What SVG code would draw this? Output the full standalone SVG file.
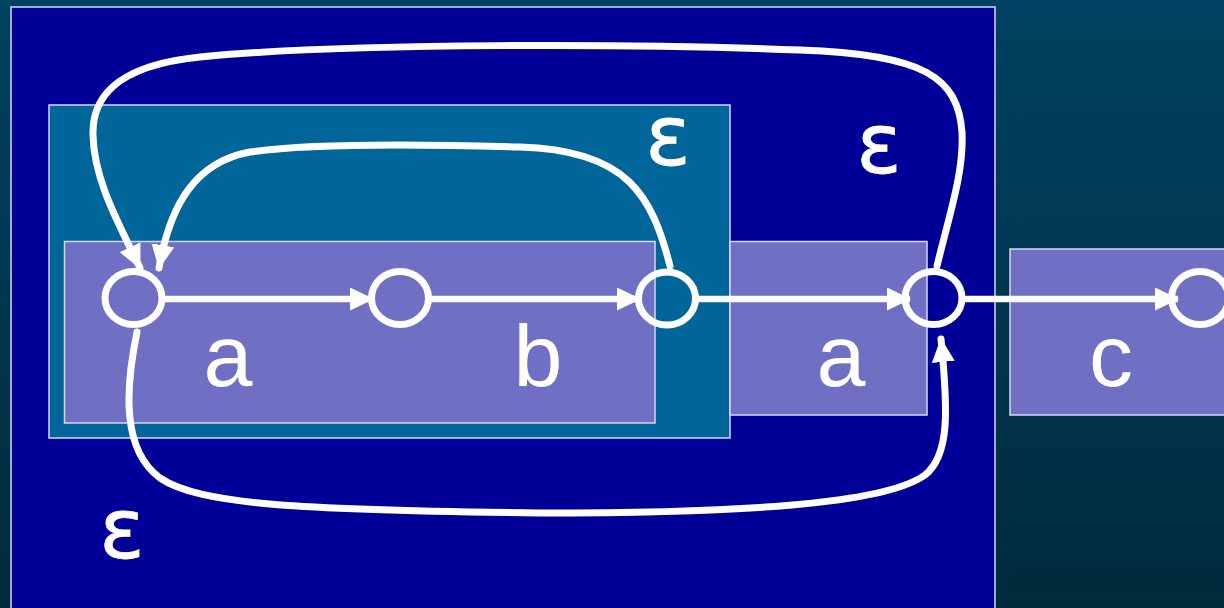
<svg xmlns="http://www.w3.org/2000/svg" width="1224" height="608" viewBox="0 0 1224 608">
  <defs>
    <linearGradient id="bg" x1="0" y1="0" x2="0" y2="1">
      <stop offset="0" stop-color="#004262"/>
      <stop offset="1" stop-color="#002a3c"/>
    </linearGradient>
    <marker id="arrow" markerUnits="userSpaceOnUse" markerWidth="26" markerHeight="24" refX="23" refY="11.5" orient="auto">
      <path d="M0,0 L24,11.5 L0,23 Z" fill="#ffffff"/>
    </marker>
    <style>
      .box { stroke: #d8d8f4; stroke-width: 1.5; }
      .outer { fill: #000099; }
      .group { fill: #006699; }
      .frag { fill: #6f70c4; }
      .state { fill: none; stroke: #ffffff; stroke-width: 7; }
      .edge { fill: none; stroke: #ffffff; stroke-width: 6.5; marker-end: url(#arrow); }
      .loop { fill: none; stroke: #ffffff; stroke-width: 7; stroke-linecap: round; marker-end: url(#arrow); }
      .sym { font-family: "Liberation Sans", Arial, sans-serif; font-size: 88px; fill: #ffffff; text-anchor: middle; }
      .eps { font-family: "DejaVu Sans", "Liberation Sans", sans-serif; font-size: 84px; fill: #ffffff; text-anchor: middle; stroke: #ffffff; stroke-width: 0.8; }
    </style>
  </defs>

  <rect width="1224" height="608" fill="url(#bg)"/>

  <!-- nested sub-automaton regions -->
  <g id="regions">
    <rect id="star-region" class="box outer" x="11" y="7" width="984" height="610"/>
    <rect id="union-region" class="box group" x="49" y="105" width="681" height="333"/>
    <rect id="ab-region" class="box frag" x="64.5" y="241.5" width="590.5" height="181.5"/>
    <rect id="a-region" class="box frag" x="730" y="241.5" width="197" height="173.5"/>
    <rect id="c-region" class="box frag" x="1010" y="249" width="230" height="166"/>
  </g>

  <!-- transitions -->
  <g id="connectors">
    <line class="edge" x1="164" y1="299" x2="373" y2="299"/>
    <line class="edge" x1="431" y1="299" x2="640" y2="299"/>
    <line class="edge" x1="698" y1="299" x2="910" y2="299"/>
    <line class="edge" x1="965" y1="299" x2="1178" y2="299"/>
    <!-- inner epsilon loop back to the start state -->
    <path class="loop" d="M 670 266 C 652 196, 628 150, 520 147 C 420 144, 310 143, 250 152 C 195 162, 170 205, 159 268"/>
    <!-- outer epsilon loop -->
    <path class="loop" d="M 937 266 C 950 212, 964 172, 962 132 C 958 78, 925 54, 800 50 C 650 44, 350 42, 200 57 C 112 66, 92 100, 93 135 C 94 180, 118 222, 140 268"/>
    <!-- epsilon bypass along the bottom -->
    <path class="loop" d="M 137 332 C 125 390, 122 450, 160 478 C 200 505, 300 510, 540 513 C 780 513, 890 500, 925 475 C 950 455, 948 410, 941 339"/>
  </g>

  <!-- states -->
  <g id="s1"><ellipse class="state" cx="133.5" cy="298" rx="28.5" ry="26.5"/></g>
  <g id="s2"><ellipse class="state" cx="400" cy="298" rx="28.5" ry="26.5"/></g>
  <g id="s3"><ellipse class="state" cx="667" cy="298.5" rx="28.5" ry="26.5"/></g>
  <g id="s4"><ellipse class="state" cx="933.5" cy="298" rx="28.5" ry="26.5"/></g>
  <g id="s5"><ellipse class="state" cx="1200" cy="298" rx="28.5" ry="26.5"/></g>

  <!-- transition labels -->
  <g id="labels">
    <text class="sym" x="228" y="386">a</text>
    <text class="sym" x="538" y="386">b</text>
    <text class="sym" x="841" y="386">a</text>
    <text class="sym" x="1111" y="386">c</text>
    <text class="eps" x="668" y="165">ε</text>
    <text class="eps" x="879" y="173">ε</text>
    <text class="eps" x="122" y="558">ε</text>
  </g>
</svg>
